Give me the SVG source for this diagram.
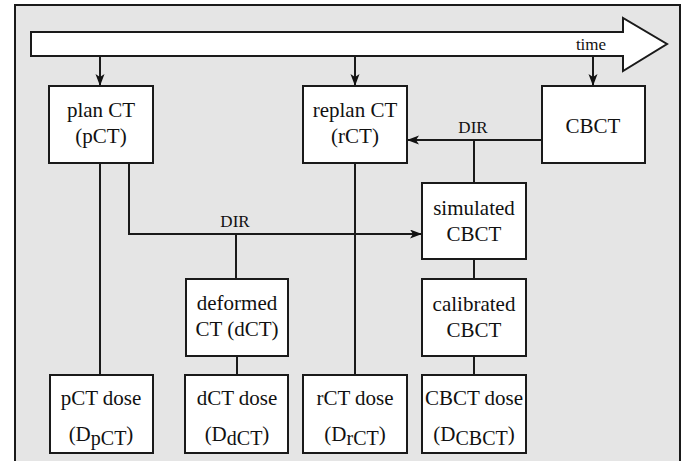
<svg xmlns="http://www.w3.org/2000/svg" width="688" height="461" viewBox="0 0 688 461">
<defs>
<marker id="ah" markerUnits="userSpaceOnUse" markerWidth="14" markerHeight="10" refX="12" refY="4.5" orient="auto">
<path d="M0,0 L12,4.5 L0,9 L3,4.5 z" fill="#111"/>
</marker>
</defs>
<style>
.box{fill:#fff;stroke:#1a1a1a;stroke-width:2}
.t{font-family:"Liberation Serif","Times New Roman",serif;font-size:21px;fill:#111;text-anchor:middle}
.s{font-size:20px}
.lbl{font-family:"Liberation Serif","Times New Roman",serif;font-size:17px;fill:#111;text-anchor:middle}
.c{fill:none;stroke:#1a1a1a;stroke-width:2}
.a{marker-end:url(#ah)}
</style>
<rect x="15" y="5" width="665" height="470" fill="#e5e5e5" stroke="#1a1a1a" stroke-width="2"/>
<g id="timeline">
<path d="M31,32 H623 V18 L667,44 L623,71 V56 H31 Z" fill="#fff" stroke="#1a1a1a" stroke-width="2"/>
<text class="lbl" x="591" y="50">time</text>
</g>
<g id="connectors">
<path class="c a" d="M100,56 V86"/>
<path class="c a" d="M355,56 V86"/>
<path class="c a" d="M593,56 V86"/>
<path class="c a" d="M542,140 H407"/>
<path class="c" d="M474,140 V183"/>
<path class="c a" d="M129,163 V234 H422"/>
<path class="c" d="M236,234 V279"/>
<path class="c" d="M100,163 V375"/>
<path class="c" d="M355,163 V375"/>
<path class="c" d="M237,356 V375"/>
<path class="c" d="M474,259 V279"/>
<path class="c" d="M474,356 V375"/>
<text class="lbl" x="473" y="133">DIR</text>
<text class="lbl" x="235" y="227">DIR</text>
</g>
<g id="planCT">
<rect class="box" x="49" y="86" width="104" height="77"/>
<text class="t" x="101" y="117">plan CT</text>
<text class="t" x="101" y="143">(pCT)</text>
</g>
<g id="replanCT">
<rect class="box" x="303" y="86" width="104" height="77"/>
<text class="t" x="355" y="117">replan CT</text>
<text class="t" x="355" y="143">(rCT)</text>
</g>
<g id="CBCT">
<rect class="box" x="542" y="86" width="103" height="77"/>
<text class="t" x="593" y="133">CBCT</text>
</g>
<g id="simulatedCBCT">
<rect class="box" x="422" y="183" width="104" height="76"/>
<text class="t" x="474" y="215">simulated</text>
<text class="t" x="474" y="241">CBCT</text>
</g>
<g id="calibratedCBCT">
<rect class="box" x="422" y="279" width="104" height="77"/>
<text class="t" x="474" y="311">calibrated</text>
<text class="t" x="474" y="337">CBCT</text>
</g>
<g id="deformedCT">
<rect class="box" x="186" y="279" width="102" height="77"/>
<text class="t" x="237" y="310">deformed</text>
<text class="t" x="237" y="336">CT (dCT)</text>
</g>
<g id="pCTdose">
<rect class="box" x="50" y="375" width="103" height="78"/>
<text class="t" x="101" y="405">pCT dose</text>
<text class="t" x="101" y="441">(D<tspan class="s" dy="4">pCT</tspan><tspan dy="-4">)</tspan></text>
</g>
<g id="dCTdose">
<rect class="box" x="185" y="375" width="103" height="78"/>
<text class="t" x="237" y="405">dCT dose</text>
<text class="t" x="237" y="441">(D<tspan class="s" dy="4">dCT</tspan><tspan dy="-4">)</tspan></text>
</g>
<g id="rCTdose">
<rect class="box" x="303" y="375" width="104" height="78"/>
<text class="t" x="355" y="405">rCT dose</text>
<text class="t" x="355" y="441">(D<tspan class="s" dy="4">rCT</tspan><tspan dy="-4">)</tspan></text>
</g>
<g id="CBCTdose">
<rect class="box" x="422" y="375" width="104" height="78"/>
<text class="t" x="474" y="405">CBCT dose</text>
<text class="t" x="474" y="441">(D<tspan class="s" dy="4">CBCT</tspan><tspan dy="-4">)</tspan></text>
</g>
</svg>
